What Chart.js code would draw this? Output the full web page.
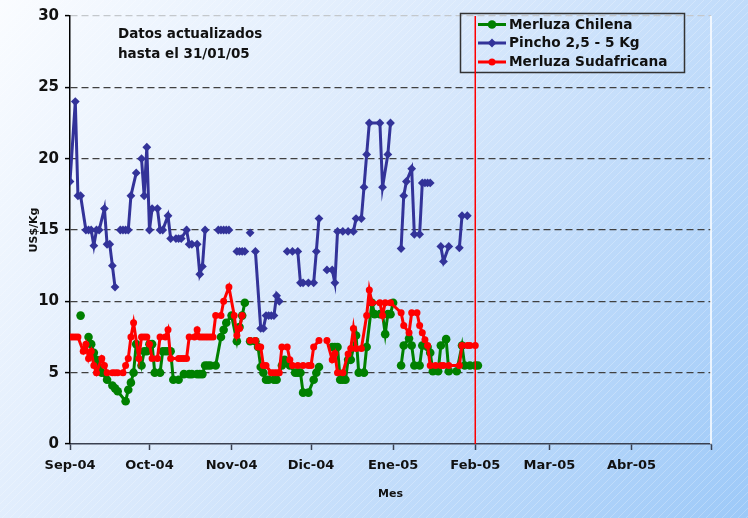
<!DOCTYPE html>
<html>
<head>
<meta charset="utf-8">
<script src="https://cdn.jsdelivr.net/npm/chart.js@4.4.1/dist/chart.umd.min.js"></script>
<style>
  html, body { margin: 0; padding: 0; }
</style>
</head>
<body>
<canvas id="grafico" width="748" height="518"></canvas>
<script>
// dias contados desde el 1 de septiembre de 2004
const mesDias = [0, 30, 61, 91, 122, 153, 181, 212, 242];
const mesEtiquetas = ['Sep-04', 'Oct-04', 'Nov-04', 'Dic-04', 'Ene-05', 'Feb-05', 'Mar-05', 'Abr-05', ''];
const corteDia = 153; // 01/02/05

// [dia, US$/Kg]  (null = sin dato)
const chilena = [
  [4,9.0],[5,null],[7,7.5],[8,7.0],[9,6.4],[10,5.9],[11,5.4],[12,5.0],[14,4.5],[16,4.1],[17,3.9],[18,3.7],
  [21,3.0],[22,3.8],[23,4.3],[24,5.0],[25,7.0],[27,5.5],[28,6.5],[29,6.5],[30,7.0],[31,7.0],[32,5.0],[34,5.0],
  [35,6.5],[36,6.5],[37,6.5],[38,6.5],[39,4.5],[41,4.5],[43,4.9],[45,4.9],[46,4.9],[48,4.9],[49,4.9],[50,4.9],
  [51,5.5],[52,5.5],[53,5.5],[55,5.5],[57,7.5],[58,8.0],[59,8.5],[61,9.0],[63,7.2],[64,8.2],[65,9.0],[66,9.9],
  [67,null],[68,7.2],[70,7.2],[71,6.8],[72,5.4],[73,5.0],[74,4.5],[75,4.5],[77,4.5],[78,4.5],[80,5.5],[81,5.9],
  [83,5.5],[85,5.0],[86,5.0],[87,5.0],[88,3.6],[90,3.6],[92,4.5],[93,5.0],[94,5.4],[96,null],[99,6.8],[100,6.8],
  [101,6.8],[102,4.5],[103,4.5],[104,4.5],[105,5.9],[106,5.9],[108,7.6],[109,5.0],[111,5.0],[112,6.8],[114,9.9],
  [115,9.1],[117,9.1],[118,9.1],[119,7.7],[120,9.1],[121,9.1],[122,9.9],[123,null],[125,5.5],[126,6.9],[128,7.4],
  [129,6.9],[130,5.5],[132,5.5],[133,6.9],[135,6.8],[136,6.4],[137,5.1],[139,5.1],[140,6.9],[142,7.35],[143,5.1],
  [146,5.1],[148,6.9],[149,5.5],[151,5.5],[153,5.5],[154,5.5]
];

const pincho = [
  [0,18.4],[2,24.0],[3,17.4],[4,17.4],[6,15],[7,15],[8,15],[9,13.9],[10,15],[11,15],[13,16.5],[14,14],[15,14],
  [16,12.5],[17,11],[18,null],[19,15],[20,15],[21,15],[22,15],[23,17.4],[25,19.0],[26,null],[27,20.0],[28,17.4],
  [29,20.8],[30,15],[31,16.5],[33,16.5],[34,15],[35,15],[37,16.0],[38,14.4],[40,14.4],[41,14.4],[42,14.4],[44,15],
  [45,14],[46,14],[48,14],[49,11.9],[50,12.45],[51,15],[53,null],[56,15],[57,15],[58,15],[59,15],[60,15],[62,null],
  [63,13.5],[64,13.5],[65,13.5],[66,13.5],[67,null],[68,14.8],[69,null],[70,13.5],[72,8.1],[73,8.1],[74,9],[75,9],
  [76,9],[77,9],[78,10.4],[79,10],[81,null],[82,13.5],[84,13.5],[86,13.5],[87,11.3],[88,11.3],[90,11.3],[92,11.3],
  [93,13.5],[94,15.8],[95,null],[97,12.2],[99,12.2],[100,11.3],[101,14.9],[103,14.9],[105,14.9],[107,14.9],
  [108,15.8],[110,15.8],[111,18],[112,20.3],[113,22.5],[117,22.5],[118,18],[120,20.3],[121,22.5],[123,null],
  [125,13.7],[126,17.4],[127,18.4],[129,19.3],[130,14.7],[132,14.7],[133,18.3],[134,18.3],[135,18.3],[136,18.3],
  [138,null],[140,13.85],[141,12.8],[143,13.85],[145,null],[147,13.75],[148,16.0],[150,16.0]
];

const sudafricana = [
  [0,7.5],[1,7.5],[2,7.5],[3,7.5],[5,6.5],[6,7.0],[7,6.0],[8,6.5],[9,5.5],[10,5.0],[12,6.0],[13,5.5],[14,5.0],
  [16,5.0],[17,5.0],[18,5.0],[20,5.0],[21,5.5],[22,6.0],[23,7.5],[24,8.5],[26,6.0],[27,7.5],[28,7.5],[29,7.5],
  [30,7.0],[31,6.0],[33,6.0],[34,7.5],[36,7.5],[37,8.0],[38,6.0],[41,6.0],[42,6.0],[43,6.0],[44,6.0],[45,7.5],
  [47,7.5],[48,8.0],[49,7.5],[50,7.5],[51,7.5],[52,7.5],[53,7.5],[54,7.5],[55,9.0],[57,9.0],[58,10.0],[60,11.0],
  [62,9.0],[63,7.6],[64,8.1],[65,9.0],[66,null],[68,7.25],[70,7.25],[71,6.8],[72,6.8],[73,5.5],[74,5.5],[76,5.0],
  [77,5.0],[78,5.0],[79,5.0],[80,6.8],[82,6.8],[83,5.9],[84,5.5],[86,5.5],[88,5.5],[90,5.5],[91,5.5],[92,6.8],
  [94,7.25],[95,null],[97,7.25],[99,5.9],[100,6.35],[101,5.0],[103,5.0],[105,6.3],[106,6.7],[107,8.1],[108,6.7],
  [110,6.7],[112,9.0],[113,10.8],[114,9.9],[117,9.9],[118,9.0],[119,9.9],[121,9.9],[125,9.2],[126,8.3],[128,7.8],
  [129,9.2],[131,9.2],[132,8.3],[133,7.8],[134,7.3],[135,6.9],[136,5.5],[138,5.5],[140,5.5],[141,5.5],[143,5.5],
  [147,5.5],[148,6.9],[150,6.9],[151,6.9],[153,6.9]
];

const aPuntos = serie => serie.map(p => ({x: p[0], y: p[1]}));
const FUENTE = '"DejaVu Sans", Arial, sans-serif';

const fondo = {
  id: 'fondo',
  beforeDraw(chart) {
    const {ctx, width, height} = chart;
    ctx.save();
    const g = ctx.createLinearGradient(0, 0, width, height);
    g.addColorStop(0, '#fafcff');
    g.addColorStop(0.45, '#d8e8fc');
    g.addColorStop(1, '#9dc9f8');
    ctx.fillStyle = g;
    ctx.fillRect(0, 0, width, height);
    // rayado diagonal suave
    ctx.strokeStyle = 'rgba(255,255,255,0.3)';
    ctx.lineWidth = 0.8;
    ctx.beginPath();
    for (let c = -height; c < width; c += 8) {
      ctx.moveTo(c, height);
      ctx.lineTo(c + height, 0);
    }
    ctx.stroke();
    ctx.restore();
  },
  beforeDatasetsDraw(chart) {
    const {ctx, chartArea} = chart;
    ctx.save();
    // borde derecho blanco del area
    ctx.strokeStyle = '#ffffff';
    ctx.lineWidth = 1.5;
    ctx.beginPath();
    ctx.moveTo(chartArea.right, chartArea.top);
    ctx.lineTo(chartArea.right, chartArea.bottom);
    ctx.stroke();

    // nota
    ctx.fillStyle = '#111';
    ctx.font = 'bold 13.5px ' + FUENTE;
    ctx.textBaseline = 'alphabetic';
    ctx.fillText('Datos actualizados', 118, 38);
    ctx.fillText('hasta el 31/01/05', 118, 58);

    // leyenda
    const bx = 460.5, by = 13.5, bw = 224, bh = 59;
    ctx.strokeStyle = '#333';
    ctx.lineWidth = 1.5;
    ctx.strokeRect(bx, by, bw, bh);
    const filas = [24.5, 43, 62];
    [0, 1, 2].forEach((i, k) => {
      const ds = chart.data.datasets[i];
      const y = filas[k];
      ctx.strokeStyle = ds.borderColor;
      ctx.lineWidth = 3;
      ctx.beginPath();
      ctx.moveTo(478, y);
      ctx.lineTo(506, y);
      ctx.stroke();
      ctx.fillStyle = ds.borderColor;
      const r = ds.pointRadius;
      ctx.beginPath();
      if (ds.pointStyle === 'rectRot') {
        ctx.moveTo(492, y - r); ctx.lineTo(492 + r, y); ctx.lineTo(492, y + r); ctx.lineTo(492 - r, y);
        ctx.closePath();
      } else {
        ctx.arc(492, y, r, 0, Math.PI * 2);
      }
      ctx.fill();
      ctx.fillStyle = '#111';
      ctx.font = 'bold 13.7px ' + FUENTE;
      ctx.textBaseline = 'middle';
      ctx.fillText(ds.label, 509, y + 0.5);
    });
    ctx.restore();
  }
};

new Chart(document.getElementById('grafico'), {
  type: 'line',
  data: {
    datasets: [
      {
        label: 'Merluza Chilena',
        data: aPuntos(chilena),
        borderColor: '#008000', backgroundColor: '#008000',
        borderWidth: 3, pointStyle: 'circle', pointRadius: 4.3,
        pointBorderWidth: 0, order: 2
      },
      {
        label: 'Pincho 2,5 - 5 Kg',
        data: aPuntos(pincho),
        borderColor: '#333399', backgroundColor: '#333399',
        borderWidth: 3, pointStyle: 'rectRot', pointRadius: 4.4,
        pointBorderWidth: 0, order: 3
      },
      {
        label: 'Merluza Sudafricana',
        data: aPuntos(sudafricana),
        borderColor: '#ff0000', backgroundColor: '#ff0000',
        borderWidth: 3, pointStyle: 'circle', pointRadius: 3.5,
        pointBorderWidth: 0, order: 1
      },
      {
        label: 'corte',
        data: [{x: corteDia, y: 0}, {x: corteDia, y: 30}],
        borderColor: '#ff0000', borderWidth: 1.5, pointRadius: 0, order: 0
      }
    ]
  },
  options: {
    responsive: false,
    animation: false,
    devicePixelRatio: 1,
    layout: { padding: { top: 16, right: 37, left: 0, bottom: 0 } },
    elements: { line: { tension: 0 } },
    plugins: { legend: { display: false }, tooltip: { enabled: false } },
    scales: {
      x: {
        type: 'linear',
        min: 0, max: 242,
        afterFit: s => { s.height = 74; },
        afterBuildTicks: s => { s.ticks = mesDias.map(v => ({value: v})); },
        ticks: {
          autoSkip: false, maxRotation: 0, padding: 8,
          color: '#111',
          font: { family: FUENTE, size: 13, weight: 'bold' },
          callback: v => mesEtiquetas[mesDias.indexOf(v)]
        },
        grid: { drawOnChartArea: false, drawTicks: true, tickLength: 6, tickColor: '#3a4050', tickWidth: 1.5 },
        border: { color: '#3a4050', width: 1.5 },
        title: {
          display: true, text: 'Mes', color: '#111',
          font: { family: FUENTE, size: 11, weight: 'bold' },
          padding: { top: 0, bottom: 17 }
        }
      },
      y: {
        min: 0, max: 30,
        afterFit: s => { s.width = 70; },
        ticks: {
          stepSize: 5, padding: 6, color: '#111',
          font: { family: FUENTE, size: 15, weight: 'bold' }
        },
        grid: {
          color: c => c.tick.value === 0 ? 'rgba(0,0,0,0)' : (c.tick.value === 30 ? '#c4c8cc' : '#404040'),
          lineWidth: 1.2,
          tickLength: 5, tickColor: '#000', tickWidth: 1.5, tickBorderDash: []
        },
        border: { color: '#000', width: 1.5, dash: [7, 4] },
        title: {
          display: true, text: 'US$/Kg', color: '#111',
          font: { family: FUENTE, size: 11, weight: 'bold' },
          padding: { top: 28, bottom: 0 }
        }
      }
    }
  },
  plugins: [fondo]
});
</script>
</body>
</html>
